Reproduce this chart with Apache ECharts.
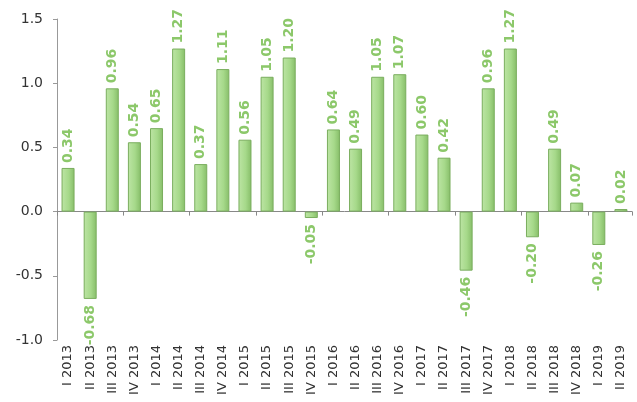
<!DOCTYPE html>
<html><head><meta charset="utf-8">
<script src="https://cdn.jsdelivr.net/npm/echarts@6/dist/echarts.min.js"></script>
<style>html,body{margin:0;padding:0;background:#fff}#c{width:637px;height:402px}</style>
</head><body><div id="c"></div>
<script>
const categories = ["I 2013","II 2013","III 2013","IV 2013","I 2014","II 2014","III 2014","IV 2014","I 2015","II 2015","III 2015","IV 2015","I 2016","II 2016","III 2016","IV 2016","I 2017","II 2017","III 2017","IV 2017","I 2018","II 2018","III 2018","IV 2018","I 2019","II 2019"];
const values = [0.34,-0.68,0.96,0.54,0.65,1.27,0.37,1.11,0.56,1.05,1.20,-0.05,0.64,0.49,1.05,1.07,0.60,0.42,-0.46,0.96,1.27,-0.20,0.49,0.07,-0.26,0.02];

const chart = echarts.init(document.getElementById('c'));
const barColor = {type:'linear',x:0,y:0,x2:1,y2:0,colorStops:[{offset:0,color:'#bde5a5'},{offset:0.55,color:'#a6d98a'},{offset:1,color:'#86bd68'}]};
const data = values.map(v => ({
  value: v,
  label: v < 0 ? {position:'bottom', align:'right', distance:6} : {position:'top', align:'left', distance:5}
}));
chart.setOption({
  animation:false,
  grid:{left:57,right:5,top:19,bottom:62},
  xAxis:[{
    type:'category', data:categories, position:'bottom',
    axisLine:{onZero:true,lineStyle:{color:'#888',width:1}},
    axisTick:{show:true,length:4,lineStyle:{color:'#888'}},
    axisLabel:{show:false}
  },{
    type:'category', data:categories, position:'bottom',
    axisLine:{show:false, onZero:false}, axisTick:{show:false},
    axisLabel:{rotate:90, interval:0, color:'#333', fontSize:13, fontFamily:'DejaVu Sans', margin:5}
  }],
  yAxis:{
    type:'value', min:-1, max:1.5, interval:0.5,
    axisLine:{show:true,lineStyle:{color:'#999'}},
    axisTick:{show:true,length:4,lineStyle:{color:'#999'}},
    splitLine:{show:false},
    axisLabel:{color:'#333',fontSize:14,fontFamily:'DejaVu Sans',margin:14,formatter:v=>v.toFixed(1)}
  },
  series:[{
    type:'bar', xAxisIndex:0, data:data, barWidth:13,
    itemStyle:{color:barColor,borderColor:'#7aae5e',borderWidth:1},
    label:{show:true, rotate:90, verticalAlign:'middle', color:'#8cc86a', fontSize:14, fontWeight:'bold', fontFamily:'DejaVu Sans', formatter:p=>p.value.toFixed(2)}
  }]
});
</script></body></html>
